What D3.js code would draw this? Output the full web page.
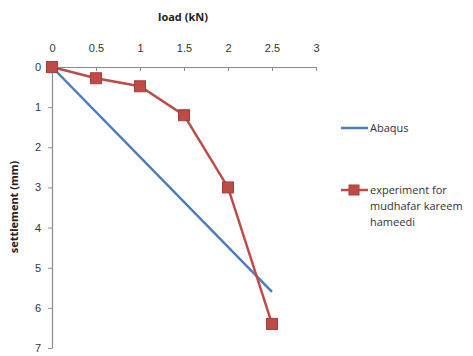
<!DOCTYPE html>
<html>
<head>
<meta charset="utf-8">
<script src="https://cdn.jsdelivr.net/npm/d3@7"></script>
<style>
  body { margin: 0; background: #fff; }
  svg { display: block; font-family: "Open Sans", "Liberation Sans", sans-serif; }
</style>
</head>
<body>
<svg id="chart" width="473" height="356"></svg>
<script>
// Load–settlement data
const loadTicks = [0, 0.5, 1, 1.5, 2, 2.5, 3];
const settlementTicks = [0, 1, 2, 3, 4, 5, 6, 7];

const abaqusLoad = [0, 2.5];
const abaqusSettlement = [0, 5.6];

const expLoad = [0, 0.5, 1, 1.5, 2, 2.5];
const expSettlement = [0, 0.28, 0.48, 1.2, 3.0, 6.4];

const seriesNames = ["Abaqus", "experiment for mudhafar kareem hameedi"];

const svg = d3.select("#chart");
const plotLeft = 52, plotRight = 316, plotTop = 67, plotBottom = 348;

const x = d3.scaleLinear().domain([0, 3]).range([plotLeft, plotRight]);
const y = d3.scaleLinear().domain([0, 7]).range([plotTop, plotBottom]);

const axisColor = "#8c8c8c";
const textColor = "#333";

// X axis along the top, ticks hanging below the line, labels above
const xAxis = svg.append("g").attr("transform", `translate(0,${plotTop})`)
  .call(d3.axisTop(x).tickValues(loadTicks).tickSize(0).tickPadding(15)
    .tickFormat(d => String(d)));
xAxis.select(".domain").attr("stroke", axisColor).attr("stroke-width", 1.2);
xAxis.selectAll(".tick text").attr("fill", textColor).attr("font-size", 11);
xAxis.selectAll(".tick").append("line")
  .attr("y1", 0).attr("y2", 4).attr("stroke", axisColor);

// Y axis
const yAxis = svg.append("g").attr("transform", `translate(${plotLeft},0)`)
  .call(d3.axisLeft(y).tickValues(settlementTicks).tickSize(4).tickSizeOuter(0).tickPadding(7)
    .tickFormat(d => String(d)));
yAxis.select(".domain").attr("stroke", axisColor).attr("stroke-width", 1.2);
yAxis.selectAll(".tick line").attr("stroke", axisColor);
yAxis.selectAll(".tick text").attr("fill", textColor).attr("font-size", 11);

// Axis titles
svg.append("text").attr("x", 183).attr("y", 21)
  .attr("text-anchor", "middle").attr("font-size", 11).attr("font-weight", "bold")
  .attr("fill", "#222").text("load (kN)");
svg.append("text")
  .attr("transform", `translate(18,207) rotate(-90)`)
  .attr("text-anchor", "middle").attr("font-size", 11).attr("font-weight", "bold")
  .attr("fill", "#222").text("settlement (mm)");

const line = d3.line().x(d => x(d[0])).y(d => y(d[1]));
const blue = "#4a7ebb", red = "#be4b48";

svg.append("path")
  .datum(abaqusLoad.map((v, i) => [v, abaqusSettlement[i]]))
  .attr("d", line).attr("fill", "none").attr("stroke", blue).attr("stroke-width", 2.5);

const expData = expLoad.map((v, i) => [v, expSettlement[i]]);
svg.append("path").datum(expData)
  .attr("d", line).attr("fill", "none").attr("stroke", red).attr("stroke-width", 2.5);

const ms = 11;
svg.selectAll("rect.marker").data(expData).enter().append("rect")
  .attr("class", "marker")
  .attr("x", d => x(d[0]) - ms / 2).attr("y", d => y(d[1]) - ms / 2)
  .attr("width", ms).attr("height", ms)
  .attr("fill", red).attr("stroke", "#a83e3b").attr("stroke-width", 1);

// Legend
const lg = svg.append("g");
lg.append("line").attr("x1", 341).attr("x2", 368).attr("y1", 128).attr("y2", 128)
  .attr("stroke", blue).attr("stroke-width", 2.5);
lg.append("text").attr("x", 370).attr("y", 132).attr("font-size", 11)
  .attr("fill", textColor).text(seriesNames[0]);

lg.append("line").attr("x1", 341).attr("x2", 368).attr("y1", 190).attr("y2", 190)
  .attr("stroke", red).attr("stroke-width", 2.5);
lg.append("rect").attr("x", 354 - 5).attr("y", 190 - 5)
  .attr("width", 10).attr("height", 10).attr("fill", red)
  .attr("stroke", "#a83e3b").attr("stroke-width", 1);
const legendLines = ["experiment for", "mudhafar kareem", "hameedi"];
const t = lg.append("text").attr("x", 370).attr("y", 194).attr("font-size", 11).attr("fill", textColor);
legendLines.forEach((s, i) => {
  t.append("tspan").attr("x", 370).attr("dy", i === 0 ? 0 : 16).text(s);
});
</script>
</body>
</html>
